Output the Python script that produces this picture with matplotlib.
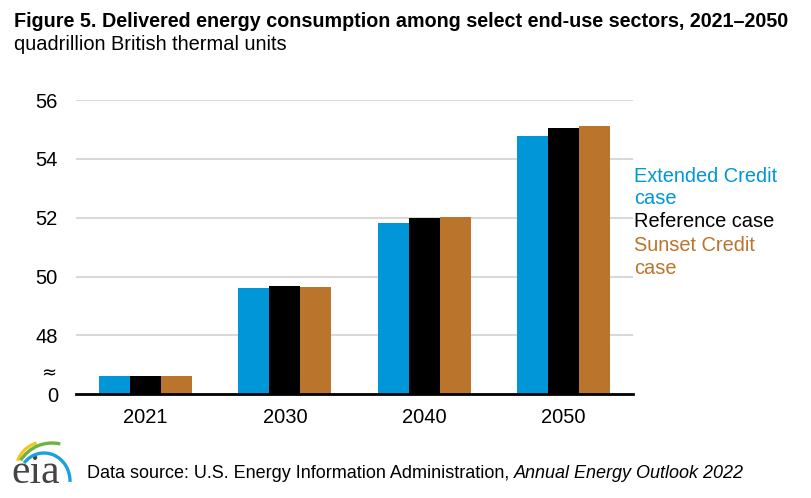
import matplotlib
matplotlib.use("Agg")
import matplotlib.pyplot as plt
from matplotlib.patches import Arc
import numpy as np

plt.rcParams['font.family'] = ['Liberation Sans', 'DejaVu Sans']

years = ["2021", "2030", "2040", "2050"]
extended = [46.63, 49.62, 51.82, 54.78]
reference = [46.63, 49.68, 52.00, 55.05]
sunset = [46.63, 49.65, 52.03, 55.12]
ytick_vals = [46, 48, 50, 52, 54, 56]
ytick_labels = ["0", "48", "50", "52", "54", "56"]

colors = ["#0096d7", "#000000", "#bb742b"]

W, H = 812, 498
fig = plt.figure(figsize=(W / 100, H / 100), dpi=100)
ax = fig.add_axes([76 / W, 1 - 394.3 / H, (633 - 76) / W, (394.3 - 100) / H])

x = np.arange(len(years))
bw = 0.223
for i, (vals, c) in enumerate(zip([extended, reference, sunset], colors)):
    ax.bar(x + (i - 1) * bw, np.array(vals) - 46, bottom=46, width=bw, color=c, zorder=3)

ax.set_xlim(-0.5, 3.5)
ax.set_ylim(46, 56)
ax.set_yticks(ytick_vals)
ax.set_yticklabels(ytick_labels)
ax.set_xticks(x)
ax.set_xticklabels(years)
ax.tick_params(axis='both', length=0, labelsize=14.5, colors='#000000')
ax.tick_params(axis='y', pad=13)
ax.tick_params(axis='x', pad=10)
for y in ytick_vals[1:]:
    ax.axhline(y, color='#d9d9d9', lw=1.5, zorder=1)
for s in ['top', 'right', 'left']:
    ax.spines[s].set_visible(False)
ax.spines['bottom'].set_color('#000000')
ax.spines['bottom'].set_linewidth(2)
ax.spines['bottom'].set_zorder(4)

# axis break symbol
fig.text(49 / W, 1 - 373 / H, "≈", fontsize=13, ha='center', va='center',
         family=['DejaVu Sans'])

# legend as coloured text
leg_lines = [("Extended Credit", colors[0], 181.7), ("case", colors[0], 204.5),
             ("Reference case", colors[1], 227.3), ("Sunset Credit", colors[2], 250.7),
             ("case", colors[2], 273.5)]
for t, c, yb in leg_lines:
    fig.text(634 / W, 1 - yb / H, t, color=c, fontsize=14.4, ha='left', va='baseline')

# titles
fig.text(14 / W, 1 - 27 / H, "Figure 5. Delivered energy consumption among select end-use sectors, 2021\u20132050",
         fontsize=14.2, fontweight='bold', ha='left', va='baseline')
fig.text(14 / W, 1 - 50 / H, "quadrillion British thermal units", fontsize=14.4,
         ha='left', va='baseline')

# footer
fig.text(87 / W, 1 - 477.5 / H, "Data source: U.S. Energy Information Administration, ",
         fontsize=13, ha='left', va='baseline')
src = fig.texts[-1]
fig.canvas.draw()
bb = src.get_window_extent()
fig.text(bb.x1 / W, 1 - 477.5 / H, "Annual Energy Outlook 2022", fontsize=13,
         style='italic', ha='left', va='baseline')

lax = fig.add_axes([0, 0, 80 / W, 60 / H])
lax.set_xlim(0, 80)
lax.set_ylim(0, 60)
lax.axis('off')
lax.text(36, 15, "eia", family=['Liberation Serif', 'DejaVu Serif'], fontsize=30,
         color='#444444', ha='center', va='baseline', zorder=1)
lax.add_patch(Arc((44, 28), 56, 56, theta1=105, theta2=161, color='#f5c518', lw=2.2, zorder=3))
lax.add_patch(Arc((52, 18), 74, 74, theta1=77, theta2=148, color='#6db33f', lw=2.4, zorder=3))
lax.add_patch(Arc((44, 17), 52, 56, theta1=-2, theta2=138, color='#1aa0dc', lw=2.4, zorder=3))

fig.savefig("out.png", dpi=100)
